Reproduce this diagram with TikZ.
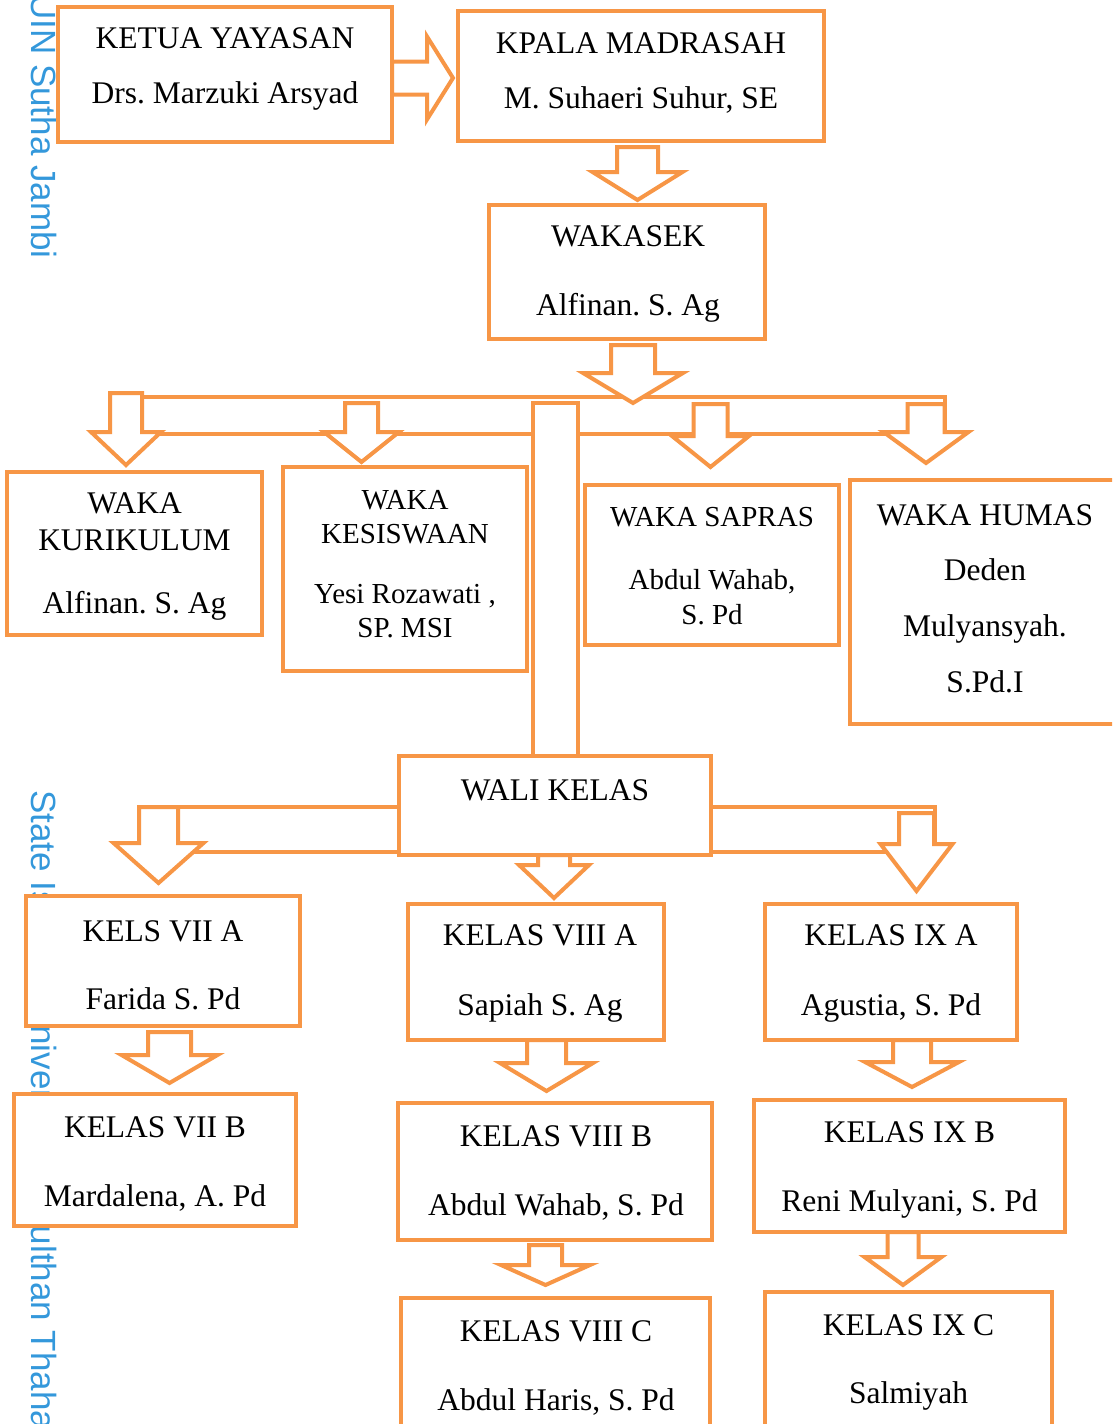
\documentclass[tikz,border=0pt]{standalone}
\usepackage{fontspec}
\setmainfont{Liberation Serif}
\newfontfamily\wmfont{Liberation Sans}
\frenchspacing
\definecolor{orgline}{HTML}{F79646}
\definecolor{wmblue}{RGB}{52,152,219}
\tikzset{
    box/.style={draw=orgline, line width=4pt, fill=white, inner sep=0pt},
    txt/.style={align=center, font=\fontsize{31.5}{35}\selectfont},
    txtsmall/.style={align=center, font=\fontsize{29}{33}\selectfont},
    arrowline/.style={draw=orgline, line width=4pt, fill=white, line join=miter},
    wmark/.style={text=wmblue, font=\wmfont\fontsize{35}{40}\selectfont, rotate=-90, inner sep=0pt}
}
\newcommand{\downblock}[6]{%
    \draw[arrowline] ({#1-#2},#4) -- ({#1+#2},#4) -- ({#1+#2},#5) -- ({#1+#3},#5) -- (#1,#6) -- ({#1-#3},#5) -- ({#1-#2},#5) -- cycle;}
\newcommand{\rightblock}[6]{%
    \draw[arrowline] (#4,{#1-#2}) -- (#4,{#1+#2}) -- (#5,{#1+#2}) -- (#5,{#1+#3}) -- (#6,#1) -- (#5,{#1-#3}) -- (#5,{#1-#2}) -- cycle;}
\begin{document}
\begin{tikzpicture}[x=1pt,y=-1pt]
    \useasboundingbox (0,0) rectangle (1112,1424);
    \clip (0,0) rectangle (1112,1424);
    \node[wmark, anchor=base west] (wmtop) at (31,-6) {UIN Sutha Jambi};
    \node[wmark, anchor=base west] (wmbot) at (31,790) {State Islamic University of Sulthan Thaha Saifuddin Jambi};

    \draw[arrowline] (126,397) rectangle (945,434);
    \draw[arrowline] (533,403) rectangle (578,756);
    \draw[arrowline] (139,807) rectangle (401,852);
    \draw[arrowline] (709,807) rectangle (935,852);

    \rightblock{78}{16.5}{41.5}{392}{427}{453}
    \downblock{637.5}{20.5}{45}{147}{172}{200}
    \downblock{633}{22}{50}{345}{373}{403}
    \downblock{126}{16}{35}{393}{432}{465}
    \downblock{361.5}{16.5}{37.5}{403}{432}{462}
    \downblock{710.5}{17}{38.5}{404}{436}{467}
    \downblock{926}{18.5}{42.5}{404}{432}{463}
    \downblock{158.5}{19.5}{45}{807}{843}{883}
    \downblock{554}{16}{35}{855}{865}{898}
    \downblock{916.5}{17.5}{36}{813}{844}{891}
    \downblock{169.5}{21.5}{48}{1032}{1055}{1083}
    \downblock{546.5}{19.5}{46.5}{1040}{1063}{1091}
    \downblock{912}{19}{47}{1040}{1062}{1087}
    \downblock{545.5}{16.5}{44.5}{1245}{1265}{1285}
    \downblock{903}{15.5}{38.5}{1232}{1257}{1285}

    \node[box, minimum width=334, minimum height=135] (ketua) at (225,74.5) {};
    \node[box, minimum width=366, minimum height=130] (kpala) at (641,76) {};
    \node[box, minimum width=276, minimum height=134] (wakasek) at (627,272) {};
    \node[box, minimum width=255, minimum height=163] (kurikulum) at (134.5,553.5) {};
    \node[box, minimum width=244, minimum height=204] (kesiswaan) at (405,569) {};
    \node[box, minimum width=254, minimum height=160] (sapras) at (712,565) {};
    \node[box, minimum width=270, minimum height=244] (humas) at (985,602) {};
    \node[box, minimum width=312, minimum height=99] (wali) at (555,805.5) {};
    \node[box, minimum width=274, minimum height=130] (kelasVIIa) at (163,961) {};
    \node[box, minimum width=256, minimum height=136] (kelasVIIIa) at (536,972) {};
    \node[box, minimum width=252, minimum height=136] (kelasIXa) at (891,972) {};
    \node[box, minimum width=282, minimum height=132] (kelasVIIb) at (155,1160) {};
    \node[box, minimum width=314, minimum height=137] (kelasVIIIb) at (555,1171.5) {};
    \node[box, minimum width=311, minimum height=132] (kelasIXb) at (909.5,1166) {};
    \node[box, minimum width=309, minimum height=162] (kelasVIIIc) at (555.5,1379) {};
    \node[box, minimum width=287, minimum height=168] (kelasIXc) at (908.5,1376) {};

    \node[txt] (ketuaT) at (225,68.5) {KETUA YAYASAN\\[20pt]Drs. Marzuki Arsyad};
    \node[txt] (kpalaT) at (641,72.5) {KPALA MADRASAH\\[20pt]M. Suhaeri Suhur, SE};
    \node[txt] (wakasekT) at (628,273.5) {WAKASEK\\[34pt]Alfinan. S. Ag};
    \node[txt] (kurikulumT) at (134.5,556) {WAKA\\[2pt]KURIKULUM\\[28pt]Alfinan. S. Ag};
    \node[txtsmall] (kesiswaanT) at (405,564) {WAKA\\[1pt]KESISWAAN\\[27pt]Yesi Rozawati ,\\[1pt]SP. MSI};
    \node[txtsmall] (saprasT) at (712,566) {WAKA SAPRAS\\[30pt]Abdul Wahab,\\[2pt]S. Pd};
    \node[txt] (humasT) at (985,598.5) {WAKA HUMAS\\[20pt]Deden\\[21pt]Mulyansyah.\\[21pt]S.Pd.I};
    \node[txt] (waliT) at (555,790) {WALI KELAS};
    \node[txt] (kelasVIIaT) at (163,965) {KELS VII A\\[33pt]Farida S. Pd};
    \node[txt] (kelasVIIIaT) at (540,973) {KELAS VIII A\\[35pt]Sapiah S. Ag};
    \node[txt] (kelasIXaT) at (891,973) {KELAS IX A\\[35pt]Agustia, S. Pd};
    \node[txt] (kelasVIIbT) at (155,1163.5) {KELAS VII B\\[34pt]Mardalena, A. Pd};
    \node[txt] (kelasVIIIbT) at (556,1172.5) {KELAS VIII B\\[34pt]Abdul Wahab, S. Pd};
    \node[txt] (kelasIXbT) at (909.5,1169.5) {KELAS IX B\\[34pt]Reni Mulyani, S. Pd};
    \node[txt] (kelasVIIIcT) at (556,1367.5) {KELAS VIII C\\[34pt]Abdul Haris, S. Pd};
    \node[txt] (kelasIXcT) at (908.5,1362) {KELAS IX C\\[33pt]Salmiyah};
\end{tikzpicture}
\end{document}
